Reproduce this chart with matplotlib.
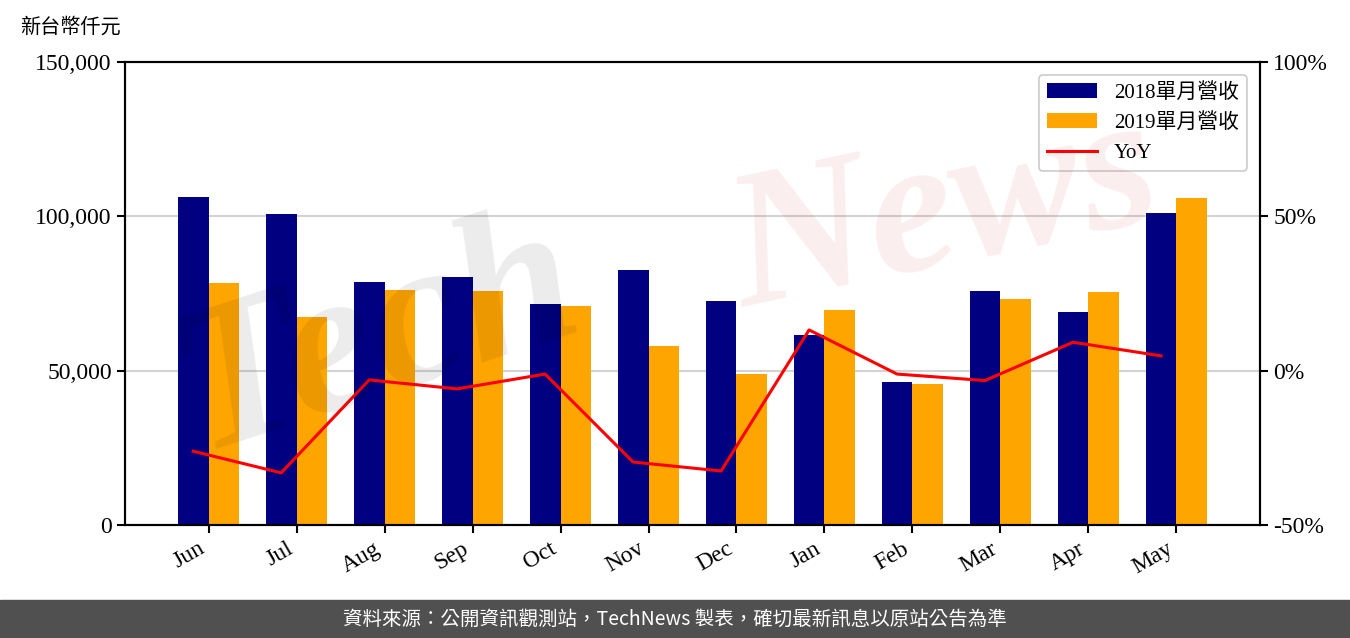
import numpy as np
import matplotlib.pyplot as plt
from matplotlib.ticker import FuncFormatter

months = ["Jun", "Jul", "Aug", "Sep", "Oct", "Nov", "Dec", "Jan", "Feb", "Mar", "Apr", "May"]
rev_2018 = [106400, 100900, 78600, 80500, 71500, 82500, 72500, 61500, 46400, 75700, 68900, 101200]
rev_2019 = [78300, 67300, 76000, 75700, 70900, 58000, 48900, 69600, 45700, 73100, 75400, 106000]
yoy = [-26.1, -33.1, -3.0, -5.9, -1.1, -29.6, -32.5, 13.2, -1.1, -3.2, 9.2, 4.8]

plt.rcParams["font.family"] = ["Liberation Serif", "Noto Sans CJK TC"]

fig = plt.figure(figsize=(13.5, 6.38), dpi=100)
ax = fig.add_axes([125 / 1350, 1 - 525 / 638, 1135 / 1350, 463 / 638])
ax2 = ax.twinx()

x = np.arange(len(months))
w = 0.35
ax.bar(x - w / 2, rev_2018, w, color="navy", label="2018單月營收", zorder=2)
ax.bar(x + w / 2, rev_2019, w, color="orange", label="2019單月營收", zorder=2)
ax.grid(True, axis="y", color="#d3d3d3", lw=1.5, zorder=0)
ax.set_axisbelow(True)

# line sits on the 2018 bar centres
ax2.plot(x - w / 2, yoy, color="red", lw=2.2, label="YoY")

ax.set_xlim(-0.95, 11.95)
ax.set_ylim(0, 150000)
ax.set_yticks([0, 50000, 100000, 150000])
ax.yaxis.set_major_formatter(FuncFormatter(lambda v, p: f"{int(v):,}"))
ax.set_xticks(x)
ax.set_xticklabels(months, rotation=30, ha="right")
ax.tick_params(axis="both", labelsize=17, width=1.5, length=6)

ax2.set_ylim(-50, 100)
ax2.set_yticks([-50, 0, 50, 100])
ax2.yaxis.set_major_formatter(FuncFormatter(lambda v, p: f"{int(v)}%"))
ax2.tick_params(axis="y", labelsize=17, width=1.5, length=6)

for a in (ax, ax2):
    for s in a.spines.values():
        s.set_linewidth(1.5)

h1, l1 = ax.get_legend_handles_labels()
h2, l2 = ax2.get_legend_handles_labels()
leg = ax2.legend(h1 + h2, l1 + l2, loc="upper right", fontsize=15,
                 framealpha=1, edgecolor="#cccccc", borderaxespad=0.6,
                 handlelength=2.4)
leg.get_frame().set_linewidth(1.2)

fig.text(20 / 1350, 1 - 28 / 638, "新台幣仟元", fontsize=14.5, va="center", ha="left")

# watermark
fig.text(0.28, 0.47, "Tech", fontsize=150, color="black", alpha=0.08,
         rotation=18, style="italic", weight="bold", ha="center", va="center", zorder=10)
fig.text(0.70, 0.66, "News", fontsize=140, color="#cc2222", alpha=0.08,
         rotation=12, style="italic", weight="bold", ha="center", va="center", zorder=10)

# footer band
fig.patches.append(plt.Rectangle((0, 0), 1, 38 / 638, transform=fig.transFigure,
                                 color="#505050", zorder=0))
fig.text(0.5, 19 / 638, "資料來源：公開資訊觀測站，TechNews 製表，確切最新訊息以原站公告為準",
         color="white", fontsize=14, ha="center", va="center",
         family=["Noto Sans CJK TC", "DejaVu Sans"])

fig.savefig("out.png", dpi=100)
